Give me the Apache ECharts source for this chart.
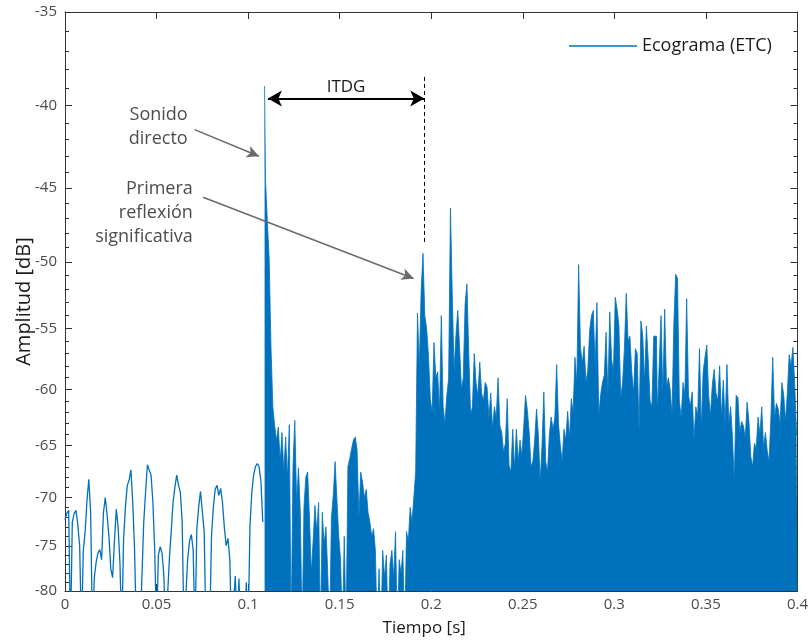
<!DOCTYPE html>
<html>
<head>
<meta charset="utf-8">
<script src="https://cdn.jsdelivr.net/npm/echarts@6/dist/echarts.min.js"></script>
<style>
  html, body { margin: 0; padding: 0; background: #ffffff; }
  #chart { width: 811px; height: 642px; }
</style>
</head>
<body>
<div id="chart"></div>
<script>
// Energy-time curve (ETC) of a room: amplitude in dB against time in seconds.

// Sampling step of both segments, in milliseconds
const pasoMs = 1;

// Noise floor before the direct sound: 0 ms .. 108 ms
const inicioPrevioMs = 0;
const amplitudPrevia = [
  -72.3, -71.6, -71.3, -85, -72.5, -71.6, -71.3, -72.8, -75.0, -85,
  -75.5, -73.5, -70.3, -68.2, -71.5, -85, -78.5, -76.8, -75.8, -75.4,
  -76.5, -71.5, -70.0, -71.8, -74.0, -77.5, -78.5, -74.5, -71.2, -73.0,
  -76.8, -85, -74.2, -71.0, -68.8, -68.3, -67.3, -70.5, -75.5, -85,
  -85, -85, -85, -72.5, -69.5, -66.8, -66.9, -67.8, -70.5, -75.5,
  -85, -76.0, -75.1, -75.8, -78.3, -85, -85, -76.4, -73.5, -70.5,
  -69.0, -67.8, -68.8, -69.5, -72.5, -85, -85, -76.4, -74.5, -73.8,
  -75.5, -85, -73.2, -71.0, -69.4, -69.3, -73.5, -85, -85, -85,
  -74.0, -71.0, -69.2, -68.8, -69.8, -69.1, -70.5, -73.0, -75.0, -74.2,
  -76.5, -85, -85, -78.3, -85, -78.6, -85, -85, -85, -79.0,
  -85, -73.0, -69.5, -67.8, -67.0, -66.7, -67.0, -68.4, -72.5
];

// Direct sound, reflections and reverberant tail: 109 ms .. 400 ms
const inicioDirectoMs = 109;
const amplitudDirecta = [
  -38.9, -44.5, -47.2, -49.8, -56.5, -61.5, -63.2, -64.5, -63.3, -66.5,
  -63.8, -67.5, -64.2, -68.0, -63.1, -85, -67.0, -62.7, -70.5, -67.1,
  -71.5, -85, -71.0, -68.0, -67.5, -72.0, -78.0, -74.5, -70.8, -73.5,
  -70.5, -85, -71.5, -74.8, -73.0, -78.0, -85, -72.0, -69.8, -66.5,
  -70.2, -74.0, -76.5, -85, -74.0, -85, -67.0, -66.2, -65.3, -64.5,
  -64.2, -65.4, -72.0, -67.5, -68.5, -70.0, -69.2, -71.5, -72.5, -74.0,
  -73.2, -75.5, -85, -77.5, -85, -75.5, -78.5, -76.0, -85, -77.0,
  -75.5, -78.5, -73.5, -85, -76.5, -78.0, -75.5, -85, -73.5, -74.5,
  -71.0, -72.5, -70.0, -67.5, -53.8, -58.0, -52.1, -49.4, -54.0, -55.0,
  -57.2, -60.8, -62.0, -56.1, -59.0, -58.5, -62.0, -54.0, -61.5, -63.0,
  -60.5, -59.1, -46.3, -52.5, -58.5, -55.5, -53.6, -56.5, -60.0, -59.0,
  -53.1, -51.6, -57.0, -62.2, -61.5, -57.0, -59.5, -60.5, -57.7, -60.3,
  -61.0, -59.4, -59.8, -62.5, -60.3, -63.5, -61.5, -62.5, -59.0, -63.2,
  -63.8, -65.6, -64.8, -60.8, -66.9, -67.5, -63.5, -67.2, -63.5, -66.5,
  -64.5, -66.0, -63.3, -60.5, -61.8, -63.8, -67.0, -66.5, -64.5, -61.7,
  -64.0, -68.5, -65.0, -60.2, -66.5, -67.5, -64.0, -62.4, -63.5, -62.5,
  -57.9, -63.0, -65.0, -66.5, -63.5, -64.5, -61.9, -64.3, -60.8, -62.0,
  -57.3, -59.5, -50.2, -56.5, -57.8, -56.4, -59.4, -58.4, -55.2, -54.0,
  -53.6, -58.0, -53.0, -62.3, -60.5, -59.4, -58.8, -55.3, -60.5, -53.7,
  -57.5, -58.5, -52.6, -53.5, -54.8, -60.8, -59.4, -56.6, -52.3, -56.0,
  -55.6, -58.5, -60.3, -56.6, -57.0, -63.8, -54.4, -55.5, -59.4, -54.8,
  -57.5, -61.0, -61.5, -55.6, -55.6, -62.0, -58.0, -54.0, -60.5, -53.5,
  -59.8, -59.0, -60.0, -62.3, -54.6, -50.9, -51.2, -61.0, -62.5, -59.4,
  -60.5, -52.7, -60.5, -61.5, -60.2, -64.5, -61.5, -62.3, -56.6, -63.5,
  -58.5, -57.3, -56.3, -60.5, -62.3, -59.6, -58.3, -60.3, -61.0, -58.0,
  -62.5, -59.2, -63.0, -57.9, -63.0, -61.5, -64.2, -68.5, -60.5, -60.7,
  -63.8, -62.8, -63.2, -64.3, -61.1, -62.8, -66.0, -67.0, -64.8, -65.2,
  -62.4, -64.0, -61.5, -65.2, -63.8, -65.5, -66.5, -62.5, -57.3, -62.5,
  -61.2, -61.7, -63.0, -59.4, -60.5, -62.8, -60.2, -57.1, -58.0, -56.5,
  -59.5, -64.0
];

// Axes
const tiempoMin = 0, tiempoMax = 0.4, tiempoPaso = 0.05;
const ticksAmplitud = [-35, -40, -45, -50, -55, -60, -65, -70, -75, -80];
const ticksAmplitudMenores = [];
for (let a = -35; a >= -80; a -= 1) ticksAmplitudMenores.push(a);

// Annotations, in (time [s], amplitude [dB])
const itdgInicio = [0.1108, -39.6];
const itdgFin = [0.1962, -39.6];
const primeraReflexionLinea = [[0.1962, -38.4], [0.1962, -48.8]];
const flechaDirecto = [[0.0708, -41.4], [0.1059, -43.0]];
const flechaReflexion = [[0.0754, -45.6], [0.1904, -51.2]];
const textoDirecto = { pos: [0.0670, -41.25], texto: 'Sonido\ndirecto' };
const textoReflexion = { pos: [0.0698, -46.6], texto: 'Primera\nreflexión\nsignificativa' };

const AZUL = '#0072BD';
const FUENTE = '"Open Sans", "DejaVu Sans", sans-serif';

// The amplitude axis is logarithmic in |dB|, drawn top (-35) to bottom (-80)
const aEje = v => -v;
const pt = p => [p[0], aEje(p[1])];
const serie = (inicioMs, valores) =>
  valores.map((v, i) => [(inicioMs + i * pasoMs) / 1000, aEje(v)]);

const magMayores = ticksAmplitud.map(aEje);
const magMenores = ticksAmplitudMenores.map(aEje);

function ejeY(pos, ticks, largo, conEtiquetas, conLinea) {
  return {
    type: 'log', logBase: 10, min: 35, max: 80, inverse: true,
    position: pos,
    splitLine: { show: false },
    axisLine: { show: conLinea, lineStyle: { color: '#333333', width: 1 } },
    axisTick: { show: true, inside: true, length: largo, customValues: ticks,
                lineStyle: { color: '#333333', width: 1 } },
    axisLabel: conEtiquetas ? {
      show: true, customValues: ticks, margin: 8,
      formatter: v => '-' + Math.round(v),
      color: '#4a4a4a', fontSize: 15, fontFamily: FUENTE
    } : { show: false },
    name: conEtiquetas ? 'Amplitud [dB]' : '',
    nameLocation: 'middle', nameGap: 31, nameMoveOverlap: false,
    nameTextStyle: { color: '#1a1a1a', fontSize: 20, fontFamily: FUENTE }
  };
}

function ejeX(pos, conEtiquetas) {
  return {
    type: 'value', min: tiempoMin, max: tiempoMax, interval: tiempoPaso,
    position: pos,
    splitLine: { show: false },
    axisLine: { show: true, onZero: false, lineStyle: { color: '#333333', width: 1 } },
    axisTick: { show: true, inside: true, length: 7, lineStyle: { color: '#333333', width: 1 } },
    axisLabel: conEtiquetas ? { show: true, margin: 6, color: '#4a4a4a', fontSize: 15, fontFamily: FUENTE }
                            : { show: false },
    name: conEtiquetas ? 'Tiempo [s]' : '',
    nameLocation: 'middle', nameGap: 29,
    nameTextStyle: { color: '#1a1a1a', fontSize: 17, fontFamily: FUENTE, padding: [0, 14, 0, 0] }
  };
}

const flechaGris = { color: '#6b6b6b', width: 1.6, type: 'solid' };

const option = {
  animation: false,
  color: [AZUL],
  grid: { left: 65, right: 12, top: 12, bottom: 49, containLabel: false },
  legend: {
    data: ['Ecograma (ETC)'],
    left: 564, top: 32,
    icon: 'rect', itemWidth: 68, itemHeight: 1.5,
    textStyle: { color: '#1a1a1a', fontSize: 18, fontFamily: FUENTE }
  },
  xAxis: [ejeX('bottom', true), ejeX('top', false)],
  yAxis: [
    ejeY('left', magMayores, 7, true, true),
    ejeY('left', magMenores, 4, false, false),
    ejeY('right', magMayores, 7, false, true),
    ejeY('right', magMenores, 4, false, false)
  ],
  series: [
    {
      name: 'Ecograma (ETC)', type: 'line',
      xAxisIndex: 0, yAxisIndex: 0,
      data: serie(inicioPrevioMs, amplitudPrevia),
      symbol: 'none', clip: true,
      itemStyle: { color: AZUL },
      lineStyle: { color: AZUL, width: 1.3 }
    },
    {
      name: 'Ecograma (ETC)', type: 'line', step: 'middle',
      xAxisIndex: 0, yAxisIndex: 0,
      data: serie(inicioDirectoMs, amplitudDirecta),
      symbol: 'none', clip: true,
      itemStyle: { color: AZUL },
      lineStyle: { color: AZUL, width: 0.8 },
      areaStyle: { color: AZUL, opacity: 1, origin: 'end' },
      markLine: {
        silent: true, animation: false,
        label: { show: false },
        data: [
          [
            { coord: pt(itdgInicio), symbol: 'arrow', symbolSize: [12, 14],
              lineStyle: { color: '#000000', width: 2, type: 'solid' },
              label: { show: true, position: 'middle', formatter: 'ITDG', distance: 3,
                       color: '#1a1a1a', fontSize: 17, fontFamily: FUENTE } },
            { coord: pt(itdgFin), symbol: 'arrow', symbolSize: [12, 14] }
          ],
          [
            { coord: pt(primeraReflexionLinea[0]), symbol: 'none',
              lineStyle: { color: '#000000', width: 1, type: [4, 3] } },
            { coord: pt(primeraReflexionLinea[1]), symbol: 'none' }
          ],
          [
            { coord: pt(flechaDirecto[0]), symbol: 'none', lineStyle: flechaGris },
            { coord: pt(flechaDirecto[1]), symbol: 'arrow', symbolSize: [9, 12] }
          ],
          [
            { coord: pt(flechaReflexion[0]), symbol: 'none', lineStyle: flechaGris },
            { coord: pt(flechaReflexion[1]), symbol: 'arrow', symbolSize: [9, 12] }
          ]
        ]
      },
      markPoint: {
        silent: true, animation: false,
        symbol: 'circle', symbolSize: 0,
        label: {
          show: true, position: 'left', distance: 0, formatter: '{b}',
          align: 'right', color: '#4d4d4d', fontSize: 18, lineHeight: 24, fontFamily: FUENTE
        },
        data: [
          { name: textoDirecto.texto, coord: pt(textoDirecto.pos) },
          { name: textoReflexion.texto, coord: pt(textoReflexion.pos) }
        ]
      }
    }
  ]
};

const chart = echarts.init(document.getElementById('chart'), null, { renderer: 'canvas' });
chart.setOption(option);
</script>
</body>
</html>
